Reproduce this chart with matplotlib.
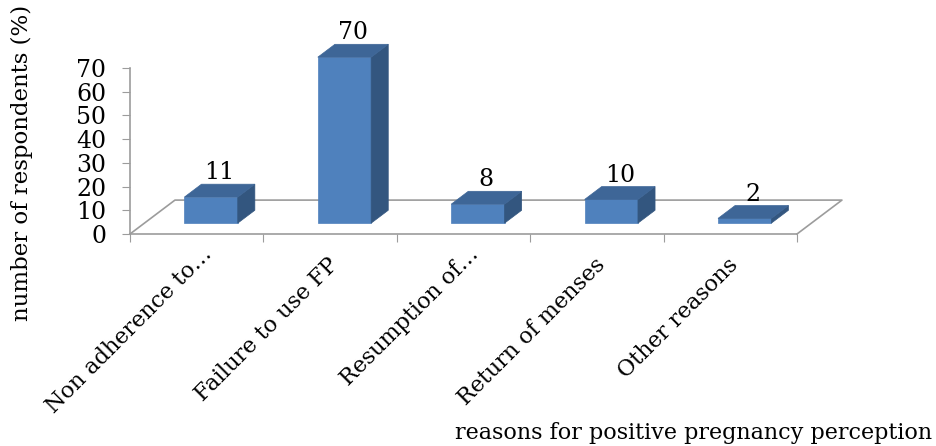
import numpy as np
import matplotlib.pyplot as plt
from matplotlib.patches import Polygon
from matplotlib.transforms import ScaledTranslation

categories = ['Non adherence to…', 'Failure to use FP', 'Resumption of…',
              'Return of menses', 'Other reasons']
values = [11, 70, 8, 10, 2]
yticks = [0, 10, 20, 30, 40, 50, 60, 70]

plt.rcParams['font.family'] = ['DejaVu Serif']

FRONT = '#4f81bd'
TOP = '#3e6697'
SIDE = '#33567f'
GRID = '#9c9c9c'
FS = 16

# oblique projection used for the fake 3D look
DX, DY = 0.337, 14.3   # offset of the back plane (category units, value units)
D0, D1 = 0.32, 0.70    # depth span of each bar
W = 0.40               # bar width


def proj(x, y, d):
    return (x + d * DX, y + d * DY)


fig = plt.figure(figsize=(9.37, 4.46), dpi=100)
ax = fig.add_axes([130 / 937, (446 - 234) / 446, 720 / 937, 202 / 446])
ax.set_xlim(0, 720 / 133.4)
ax.set_ylim(0, 202 / 2.371)

n = len(categories)

# floor outline (front edge is the bottom spine)
pts = [proj(n, 0, 0), proj(n, 0, 1), proj(0, 0, 1), proj(0, 0, 0)]
ax.plot([p[0] for p in pts], [p[1] for p in pts], color=GRID, lw=1.2,
        zorder=1, clip_on=False)

for s in ['top', 'right']:
    ax.spines[s].set_visible(False)
for s in ['left', 'bottom']:
    ax.spines[s].set_color(GRID)
    ax.spines[s].set_linewidth(1.2)
ax.spines['left'].set_bounds(0, 70)
ax.spines['bottom'].set_bounds(0, n)

ax.set_yticks(yticks)
ax.set_yticklabels([str(v) for v in yticks], fontsize=FS + 1)
ax.tick_params(axis='y', length=6, color=GRID, pad=11)

ax.set_xticks(range(n + 1))
ax.set_xticklabels([''] * (n + 1))
ax.tick_params(axis='x', which='major', length=6, color=GRID)
ax.set_xticks(np.arange(n) + 0.5, minor=True)
ax.set_xticklabels(categories, minor=True, fontsize=FS, rotation=45,
                   ha='right', va='center', rotation_mode='anchor')
ax.tick_params(axis='x', which='minor', length=0, pad=12)
# truncated labels overhang a little further than the full ones
for lbl in ax.xaxis.get_minorticklabels():
    dx, dy = (12, 0) if lbl.get_text().endswith('…') else (5, -11)
    lbl.set_transform(lbl.get_transform() +
                      ScaledTranslation(dx / 100, dy / 100, fig.dpi_scale_trans))

for i, v in enumerate(values):
    x0 = i + 0.5 - W / 2
    x1 = x0 + W
    front = [proj(x0, 0, D0), proj(x1, 0, D0), proj(x1, v, D0), proj(x0, v, D0)]
    top = [proj(x0, v, D0), proj(x1, v, D0), proj(x1, v, D1), proj(x0, v, D1)]
    side = [proj(x1, 0, D0), proj(x1, 0, D1), proj(x1, v, D1), proj(x1, v, D0)]
    for poly, c in [(front, FRONT), (side, SIDE), (top, TOP)]:
        ax.add_patch(Polygon(poly, closed=True, facecolor=c, edgecolor=c,
                             lw=0.5, zorder=3, clip_on=False))
    cx = proj(i + 0.5, v, (D0 + D1) / 2)[0]
    cy = proj(i + 0.5, v, D1)[1]
    ax.annotate(str(v), (cx, cy), xytext=(0, 0), textcoords='offset points',
                ha='center', va='bottom', fontsize=FS + 1, annotation_clip=False)

fig.text(22 / 937, 1 - 163 / 446, 'number of respondents (%)', rotation=90,
         ha='center', va='center', fontsize=FS + 0.5)
fig.text(932 / 937, 1 - 433 / 446, 'reasons for positive pregnancy perception',
         ha='right', va='center', fontsize=FS)

fig.savefig('out.png', dpi=100)
